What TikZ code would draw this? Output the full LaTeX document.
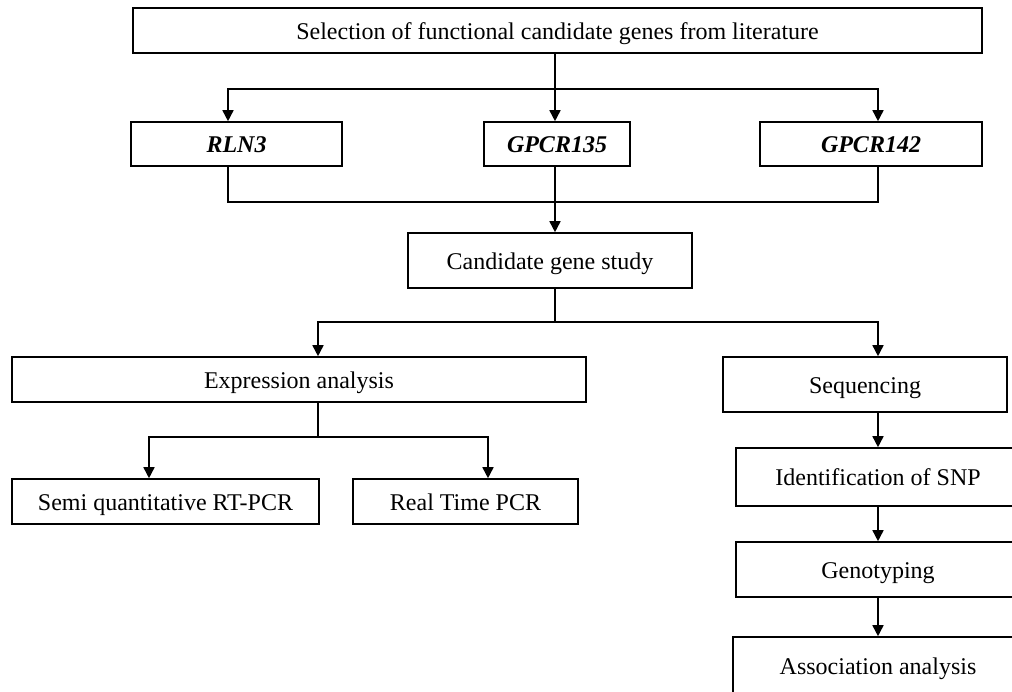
\documentclass[tikz,border=0pt]{standalone}
\usepackage{fontspec}
\setmainfont{Liberation Serif}
\usepackage{tikz}
\usetikzlibrary{arrows.meta, calc}

\begin{document}
\begin{tikzpicture}[x=0.5pt, y=-0.5pt, >={Triangle[length=5.5pt, width=5.5pt]}, line width=0.8pt,
    box/.style={rectangle, draw, inner sep=2pt, text height=11pt, text depth=2.5pt, font=\fontsize{12}{14}\selectfont},
    gene/.style={box, font=\fontsize{12}{14}\selectfont\bfseries\itshape}]
    \clip (0,0) rectangle (1012,691);
    % Nodes
    \node[box, minimum width=424.5pt, minimum height=22.5pt] (top) at (557.5, 30.5) {Selection of functional candidate genes from literature};
    \node[gene, minimum width=105.5pt, minimum height=22pt] (rln) at (236.5, 144) {RLN3};
    \node[gene, minimum width=73pt, minimum height=22pt] (g135) at (557, 144) {GPCR135};
    \node[gene, minimum width=111pt, minimum height=22pt] (g142) at (871, 144) {GPCR142};
    \node[box, minimum width=142pt, minimum height=27.5pt] (cand) at (550, 260.5) {Candidate gene study};
    \node[box, minimum width=287pt, minimum height=22.5pt] (expr) at (299, 379.5) {Expression analysis};
    \node[box, minimum width=142pt, minimum height=27.5pt] (seq) at (865, 384.5) {Sequencing};
    \node[box, minimum width=153.5pt, minimum height=22.5pt] (semi) at (165.5, 501.5) {Semi quantitative RT-PCR};
    \node[box, minimum width=112.5pt, minimum height=22.5pt] (rt) at (465.5, 501.5) {Real Time PCR};
    \node[box, minimum width=142pt, minimum height=29pt] (snp) at (878, 477) {Identification of SNP};
    \node[box, minimum width=142pt, minimum height=27.5pt] (geno) at (878, 569.5) {Genotyping};
    \node[box, minimum width=145pt, minimum height=29pt] (assoc) at (878, 666) {Association analysis};

    % Junctions
    \coordinate (s1) at (555, 89);
    \coordinate (m1) at (555, 202);
    \coordinate (s2) at (555, 322);
    \coordinate (s3) at (318, 437);

    % Edges
    \draw (top.south -| s1) -- (s1);
    \draw[->] (s1) -- (s1 |- g135.north);
    \draw[->] (s1) -| ([xshift=-4.25pt]rln.north);
    \draw[->] (s1) -| ([xshift=3.5pt]g142.north);

    \draw ([xshift=-4.25pt]rln.south) |- (m1) -| ([xshift=3.5pt]g142.south);
    \draw (g135.south -| m1) -- (m1);
    \draw[->] (m1) -- (m1 |- cand.north);

    \draw (cand.south -| s2) -- (s2);
    \draw[->] (s2) -| ([xshift=9.5pt]expr.north);
    \draw[->] (s2) -| ([xshift=6.5pt]seq.north);

    \draw ([xshift=9.5pt]expr.south) -- (s3);
    \draw[->] (s3) -| ([xshift=-8.25pt]semi.north);
    \draw[->] (s3) -| ([xshift=11.25pt]rt.north);

    \draw[->] (seq.south -| snp.north) -- (snp.north);
    \draw[->] (snp) -- (geno);
    \draw[->] (geno) -- (assoc);
\end{tikzpicture}
\end{document}
